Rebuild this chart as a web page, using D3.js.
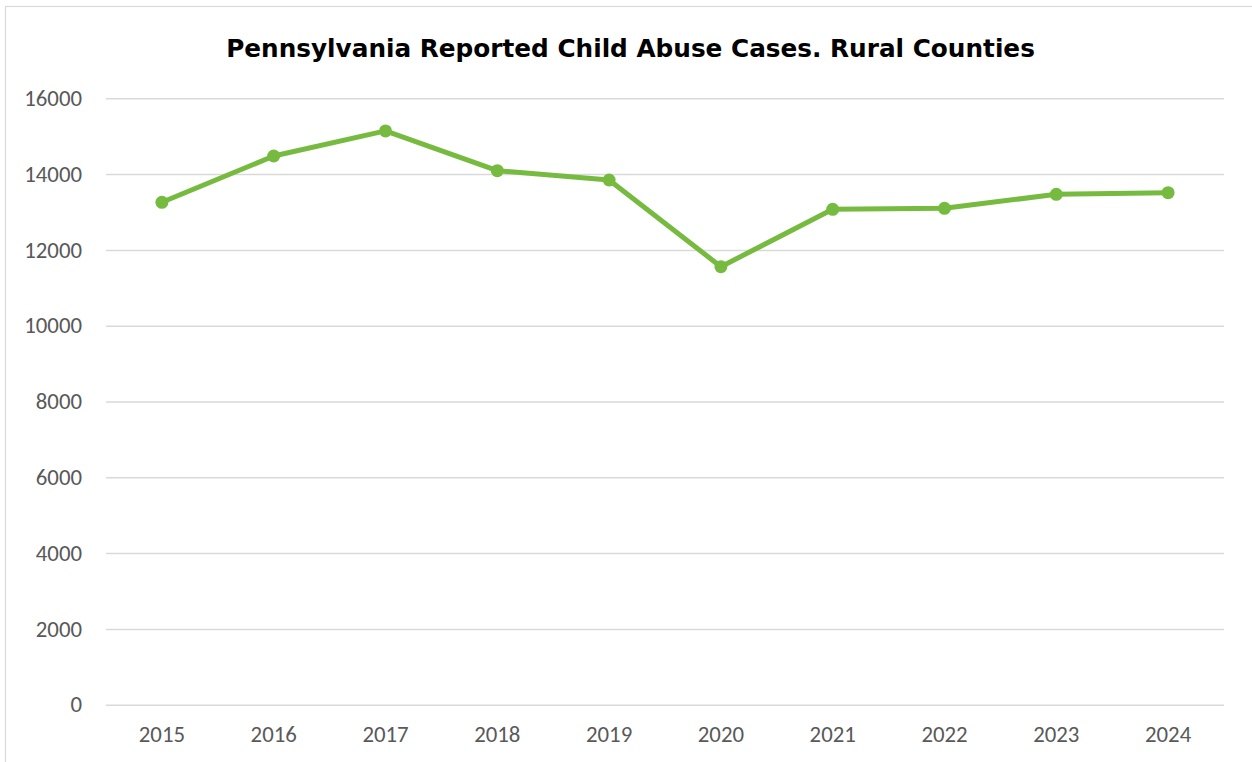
<!DOCTYPE html>
<html>
<head>
<meta charset="utf-8">
<script src="https://cdn.jsdelivr.net/npm/d3@7"></script>
<style>
  html, body { margin: 0; padding: 0; background: #fff; }
  svg { display: block; }
</style>
</head>
<body>
<svg id="chart" width="1252" height="762"></svg>
<script>
// Reported child abuse cases in rural Pennsylvania counties, by year
const years = ["2015", "2016", "2017", "2018", "2019", "2020", "2021", "2022", "2023", "2024"];
const cases = [13256, 14477, 15140, 14090, 13844, 11557, 13071, 13097, 13467, 13509];
const yTicks = [0, 2000, 4000, 6000, 8000, 10000, 12000, 14000, 16000];
const title = "Pennsylvania Reported Child Abuse Cases. Rural Counties";

const W = 1252, H = 762;
const plot = { left: 106, right: 1224, top: 98.3, bottom: 704.7 };
const labelFont = "Carlito, Calibri, Lato, 'Open Sans', sans-serif";

const svg = d3.select("#chart");

// chart frame
svg.append("rect")
  .attr("x", 5.5).attr("y", 6.5)
  .attr("width", W + 10).attr("height", H + 10)
  .attr("fill", "#fff")
  .attr("stroke", "#d9d9d9")
  .attr("stroke-width", 1.2);

const x = d3.scaleBand().domain(years).range([plot.left, plot.right]);
const y = d3.scaleLinear().domain([0, 16000]).range([plot.bottom, plot.top]);

// horizontal gridlines + value labels
const yAxis = d3.axisLeft(y)
  .tickValues(yTicks)
  .tickFormat(d3.format("d"))
  .tickSize(-(plot.right - plot.left))
  .tickPadding(24);
const gy = svg.append("g").attr("transform", `translate(${plot.left},0)`).call(yAxis);
gy.select(".domain").remove();
gy.selectAll(".tick line").attr("stroke", "#d9d9d9").attr("stroke-width", 1.5);
gy.selectAll(".tick text")
  .attr("fill", "#595959")
  .style("font-family", labelFont)
  .style("font-size", "22.8px");

// category labels
const xAxis = d3.axisBottom(x).tickSize(0).tickPadding(21);
const gx = svg.append("g").attr("transform", `translate(0,${plot.bottom})`).call(xAxis);
gx.select(".domain").remove();
gx.selectAll(".tick text")
  .attr("fill", "#595959")
  .style("font-family", labelFont)
  .style("font-size", "22.8px");

const cx = d => x(d) + x.bandwidth() / 2;
const pts = years.map((yr, i) => ({ yr, v: cases[i] }));

// series line
svg.append("path")
  .datum(pts)
  .attr("fill", "none")
  .attr("stroke", "#76bb40")
  .attr("stroke-width", 5)
  .attr("stroke-linejoin", "round")
  .attr("d", d3.line().x(d => cx(d.yr)).y(d => y(d.v)));

// markers
svg.append("g").selectAll("circle")
  .data(pts)
  .join("circle")
  .attr("cx", d => cx(d.yr))
  .attr("cy", d => y(d.v))
  .attr("r", 6.5)
  .attr("fill", "#76bb40");

// title, sized to span its target width
const titleText = svg.append("text")
  .attr("x", 630.5).attr("y", 57)
  .attr("text-anchor", "middle")
  .attr("fill", "#000")
  .style("font-family", "'DejaVu Sans', sans-serif")
  .style("font-weight", "bold")
  .style("font-size", "24px")
  .text(title);
const tw = titleText.node().getComputedTextLength();
titleText.style("font-size", (24 * 809 / tw).toFixed(2) + "px");
</script>
</body>
</html>
